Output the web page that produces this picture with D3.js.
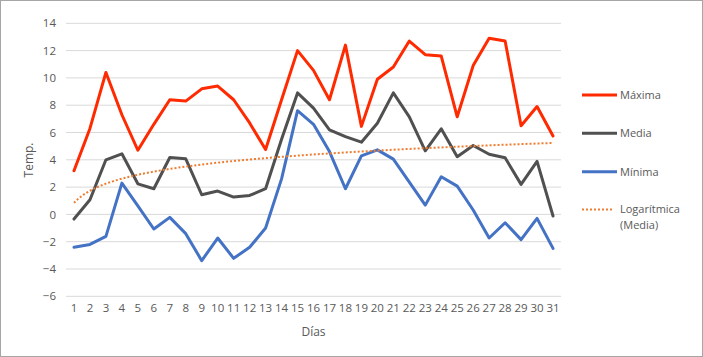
<!DOCTYPE html>
<html><head><meta charset="utf-8">
<script src="https://cdn.jsdelivr.net/npm/d3@7"></script>
<style>body{margin:0;background:#fff} text{font-family:"Open Sans",sans-serif;fill:#595959}</style>
</head><body><svg id="c" width="703" height="357"></svg><script>
const days = ["1","2","3","4","5","6","7","8","9","10","11","12","13","14","15","16","17","18","19","20","21","22","23","24","25","26","27","28","29","30","31"];
const maxima = [3.2,6.3,10.4,7.3,4.7,6.6,8.4,8.3,9.2,9.4,8.4,6.7,4.75,8.4,12.0,10.55,8.4,12.4,6.45,9.9,10.8,12.7,11.7,11.6,7.15,10.9,12.9,12.7,6.5,7.9,5.75];
const media = [-0.34,1.07,4.0,4.44,2.24,1.88,4.17,4.07,1.44,1.71,1.27,1.39,1.88,5.5,8.9,7.78,6.2,5.7,5.29,6.68,8.9,7.15,4.66,6.27,4.22,5.05,4.41,4.15,2.2,3.88,-0.12];
const minima = [-2.41,-2.2,-1.61,2.29,0.63,-1.07,-0.22,-1.41,-3.39,-1.73,-3.22,-2.41,-1.0,2.6,7.6,6.6,4.6,1.88,4.29,4.73,4.05,2.37,0.68,2.76,2.07,0.32,-1.73,-0.61,-1.85,-0.29,-2.49];
const yTicks = [-6,-4,-2,0,2,4,6,8,10,12,14];
const seriesNames = ["Máxima","Media","Mínima"];
const colors = ["#ff2a00","#505050","#4472c4"];
const trendColor = "#ed7d31";

const svg = d3.select("#c");
svg.append("rect").attr("x",0.5).attr("y",0.5).attr("width",702).attr("height",356)
  .attr("fill","#fff").attr("stroke","#a6a6a6");

const x = d3.scaleBand().domain(days).range([66,561]);
const y = d3.scaleLinear().domain([-6,14]).range([296.3,23.3]);

// gridlines
svg.append("g").selectAll("line").data(yTicks).join("line")
  .attr("x1",66).attr("x2",561).attr("y1",d=>y(d)).attr("y2",d=>y(d))
  .attr("stroke","#d9d9d9").attr("stroke-width",1);

// y tick labels
const ya = svg.append("g").attr("transform","translate(56,0)")
  .call(d3.axisLeft(y).tickValues(yTicks).tickSize(0).tickPadding(0));
ya.select(".domain").remove();
ya.selectAll("text").attr("font-size",11.5).attr("fill","#595959").style("font-family","Open Sans");

// x tick labels
const xa = svg.append("g").attr("transform","translate(0,304)")
  .call(d3.axisBottom(x).tickSize(0).tickPadding(0));
xa.select(".domain").remove();
xa.selectAll("text").attr("font-size",11.5).attr("fill","#595959").style("font-family","Open Sans");

svg.append("text").attr("x",313.5).attr("y",336).attr("text-anchor","middle")
  .attr("font-size",12).text("Días");
svg.append("text").attr("transform","translate(33,160) rotate(-90)").attr("text-anchor","middle")
  .attr("font-size",12).text("Temp.");

const cx = d => x(d) + x.bandwidth()/2;
const line = d3.line().x((d,i)=>cx(days[i])).y(d=>y(d));

// logarithmic trendline of media (least squares on ln(x))
const lx = days.map(d=>Math.log(+d));
const mx = d3.mean(lx), my = d3.mean(media);
const a = d3.sum(lx.map((v,i)=>(v-mx)*(media[i]-my))) / d3.sum(lx.map(v=>(v-mx)*(v-mx)));
const b = my - a*mx;
const tx = d3.scaleLinear().domain([1,31]).range([cx("1"),cx("31")]);
const trendPts = d3.range(1,31.01,0.25).map(t=>[tx(t), y(a*Math.log(t)+b)]);

[maxima,media,minima].forEach((s,k)=>{
  svg.append("path").datum(s).attr("d",line).attr("fill","none")
    .attr("stroke",colors[k]).attr("stroke-width",3).attr("stroke-linejoin","round").attr("stroke-linecap","round");
});
svg.append("path").datum(trendPts).attr("d",d3.line()).attr("fill","none")
  .attr("stroke",trendColor).attr("stroke-width",2).attr("stroke-dasharray","2,2");

// legend
const legY = [95,133.3,171.7];
seriesNames.forEach((n,k)=>{
  svg.append("line").attr("x1",582).attr("x2",617).attr("y1",legY[k]).attr("y2",legY[k])
    .attr("stroke",colors[k]).attr("stroke-width",3);
  svg.append("text").attr("x",620).attr("y",legY[k]).attr("dy","0.35em").attr("font-size",11).text(n);
});
svg.append("line").attr("x1",582).attr("x2",614).attr("y1",209.5).attr("y2",209.5)
  .attr("stroke",trendColor).attr("stroke-width",2).attr("stroke-dasharray","2,2");
svg.append("text").attr("x",620).attr("y",209.5).attr("dy","0.35em").attr("font-size",11).text("Logarítmica");
svg.append("text").attr("x",620).attr("y",225).attr("dy","0.35em").attr("font-size",11).text("(Media)");
</script></body></html>
